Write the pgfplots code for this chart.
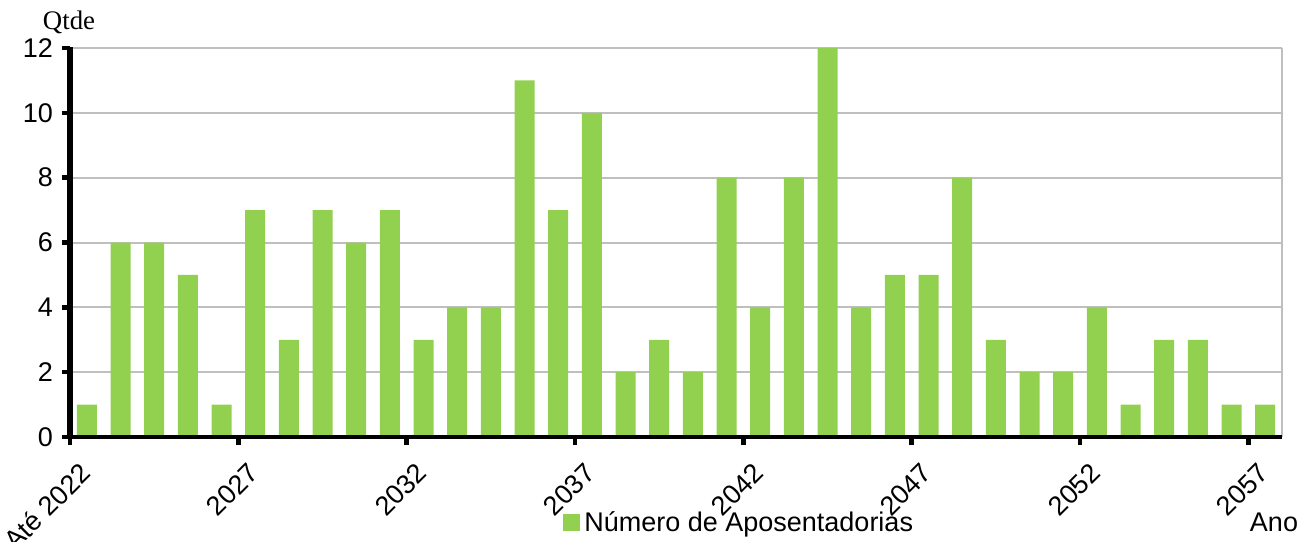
\documentclass[border=0pt]{standalone}
\usepackage{pgfplots}
\pgfplotsset{compat=1.18}
\usepackage{fontspec}
\setmainfont{Liberation Sans}
\newfontfamily\seriffont{Liberation Serif}
\definecolor{barg}{RGB}{146,208,80}
\definecolor{gridg}{RGB}{191,191,191}
\begin{document}
\begin{tikzpicture}[font=\fontsize{13.5}{16}\selectfont]
\begin{axis}[
  name=ax,
  scale only axis,
  width=606pt, height=194.5pt,
  xmin=0, xmax=36, ymin=0, ymax=12,
  axis lines*=left,
  axis line style={draw=none},
  ytick={0,2,...,12},
  xtick={0,5,...,35},
  xticklabels={Até 2022,2027,2032,2037,2042,2047,2052,2057},
  tick align=outside,
  major tick length=4pt,
  tick style={black, line width=2.2pt},
  ymajorgrids,
  grid style={gridg, line width=1pt},
  /pgf/number format/assume math mode=true,
  ticklabel style={font=\fontsize{13.5}{16}\selectfont},
  yticklabel style={xshift=-1pt},
  xticklabel style={rotate=45, anchor=east, xshift=0.7pt, yshift=-13.7pt},
  legend style={at={(0.553,-0.221)}, anchor=center, draw=none, fill=none,
    font=\fontsize{13.5}{16}\selectfont, inner sep=0pt},
  legend image code/.code={\fill[barg] (0pt,-4.25pt) rectangle (8.5pt,4.25pt);},
  clip=false,
]
\addplot[ybar, bar width=10pt, fill=barg, draw=none] table {
x y
0.5 1
1.5 6
2.5 6
3.5 5
4.5 1
5.5 7
6.5 3
7.5 7
8.5 6
9.5 7
10.5 3
11.5 4
12.5 4
13.5 11
14.5 7
15.5 10
16.5 2
17.5 3
18.5 2
19.5 8
20.5 4
21.5 8
22.5 12
23.5 4
24.5 5
25.5 5
26.5 8
27.5 3
28.5 2
29.5 2
30.5 4
31.5 1
32.5 3
33.5 3
34.5 1
35.5 1
};
\addlegendentry{Número de Aposentadorias}
\draw[gridg, line width=1pt] (rel axis cs:1,0) -- (rel axis cs:1,1);
\draw[black, line width=2.25pt] ([xshift=-1.5pt]rel axis cs:0,0) -- (rel axis cs:1,0);
\draw[black, line width=3pt] ([yshift=-1.1pt]rel axis cs:0,0) -- ([yshift=0.5pt]rel axis cs:0,1);
\end{axis}
\node[font=\seriffont\fontsize{13.4}{15}\selectfont, anchor=base] at ([xshift=-0.5pt, yshift=9pt]ax.north west) {Qtde};
\node[anchor=center] at ([xshift=-4pt, yshift=-42.5pt]ax.south east) {Ano};
\pgfresetboundingbox
\path ([xshift=-35pt, yshift=-52pt]ax.south west) rectangle ([xshift=8.5pt, yshift=24pt]ax.north east);
\end{tikzpicture}
\end{document}
